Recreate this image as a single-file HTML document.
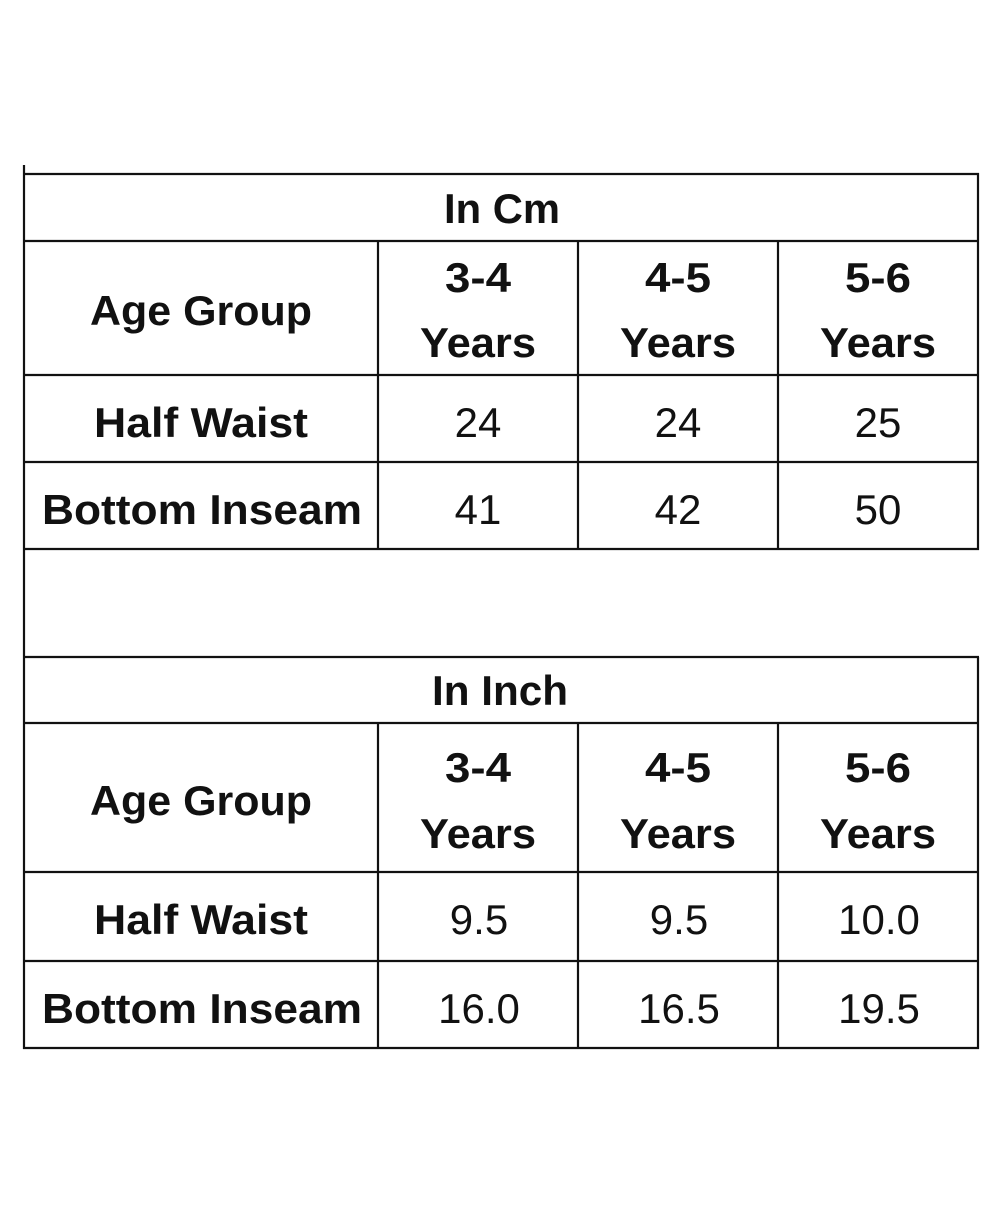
<!DOCTYPE html>
<html><head><meta charset="utf-8"><style>
html,body{margin:0;padding:0;background:#fff;}
svg{display:block;}
text{font-family:"Liberation Sans",sans-serif;fill:#111;}
.b{font-weight:bold;font-size:42px;}
.n{font-size:42px;}
</style></head><body>
<svg width="1000" height="1212">
<g stroke="#111" stroke-width="2.2" fill="none">
  <line x1="24" y1="165" x2="24" y2="1049"/>
  <line x1="978" y1="173" x2="978" y2="550"/>
  <line x1="978" y1="657" x2="978" y2="1049"/>
  <line x1="23" y1="174" x2="979" y2="174"/>
  <line x1="23" y1="241" x2="979" y2="241"/>
  <line x1="23" y1="375" x2="979" y2="375"/>
  <line x1="23" y1="462" x2="979" y2="462"/>
  <line x1="23" y1="549" x2="979" y2="549"/>
  <line x1="378" y1="241" x2="378" y2="549"/>
  <line x1="578" y1="241" x2="578" y2="549"/>
  <line x1="778" y1="241" x2="778" y2="549"/>
  <line x1="23" y1="657" x2="979" y2="657"/>
  <line x1="23" y1="723" x2="979" y2="723"/>
  <line x1="23" y1="872" x2="979" y2="872"/>
  <line x1="23" y1="961" x2="979" y2="961"/>
  <line x1="23" y1="1048" x2="979" y2="1048"/>
  <line x1="378" y1="723" x2="378" y2="1048"/>
  <line x1="578" y1="723" x2="578" y2="1048"/>
  <line x1="778" y1="723" x2="778" y2="1048"/>
</g>
<g text-anchor="middle">
  <text class="b" x="502" y="223" textLength="116" lengthAdjust="spacingAndGlyphs">In Cm</text>
  <text class="b" x="201" y="325" textLength="222" lengthAdjust="spacingAndGlyphs">Age Group</text>
  <text class="b" x="478" y="292" textLength="66" lengthAdjust="spacingAndGlyphs">3-4</text>
  <text class="b" x="478" y="357" textLength="116" lengthAdjust="spacingAndGlyphs">Years</text>
  <text class="b" x="678" y="292" textLength="66" lengthAdjust="spacingAndGlyphs">4-5</text>
  <text class="b" x="678" y="357" textLength="116" lengthAdjust="spacingAndGlyphs">Years</text>
  <text class="b" x="878" y="292" textLength="66" lengthAdjust="spacingAndGlyphs">5-6</text>
  <text class="b" x="878" y="357" textLength="116" lengthAdjust="spacingAndGlyphs">Years</text>
  <text class="b" x="201" y="437" textLength="214" lengthAdjust="spacingAndGlyphs">Half Waist</text>
  <text class="b" x="202" y="524" textLength="320" lengthAdjust="spacingAndGlyphs">Bottom Inseam</text>
  <text class="n" x="478" y="437">24</text>
  <text class="n" x="678" y="437">24</text>
  <text class="n" x="878" y="437">25</text>
  <text class="n" x="478" y="524">41</text>
  <text class="n" x="678" y="524">42</text>
  <text class="n" x="878" y="524">50</text>
</g>
<g text-anchor="middle">
  <text class="b" x="500" y="705" textLength="136" lengthAdjust="spacingAndGlyphs">In Inch</text>
  <text class="b" x="201" y="815" textLength="222" lengthAdjust="spacingAndGlyphs">Age Group</text>
  <text class="b" x="478" y="782" textLength="66" lengthAdjust="spacingAndGlyphs">3-4</text>
  <text class="b" x="478" y="848" textLength="116" lengthAdjust="spacingAndGlyphs">Years</text>
  <text class="b" x="678" y="782" textLength="66" lengthAdjust="spacingAndGlyphs">4-5</text>
  <text class="b" x="678" y="848" textLength="116" lengthAdjust="spacingAndGlyphs">Years</text>
  <text class="b" x="878" y="782" textLength="66" lengthAdjust="spacingAndGlyphs">5-6</text>
  <text class="b" x="878" y="848" textLength="116" lengthAdjust="spacingAndGlyphs">Years</text>
  <text class="b" x="201" y="934" textLength="214" lengthAdjust="spacingAndGlyphs">Half Waist</text>
  <text class="b" x="202" y="1023" textLength="320" lengthAdjust="spacingAndGlyphs">Bottom Inseam</text>
  <text class="n" x="479" y="934">9.5</text>
  <text class="n" x="679" y="934">9.5</text>
  <text class="n" x="879" y="934">10.0</text>
  <text class="n" x="479" y="1023">16.0</text>
  <text class="n" x="679" y="1023">16.5</text>
  <text class="n" x="879" y="1023">19.5</text>
</g>
</svg>
</body></html>
